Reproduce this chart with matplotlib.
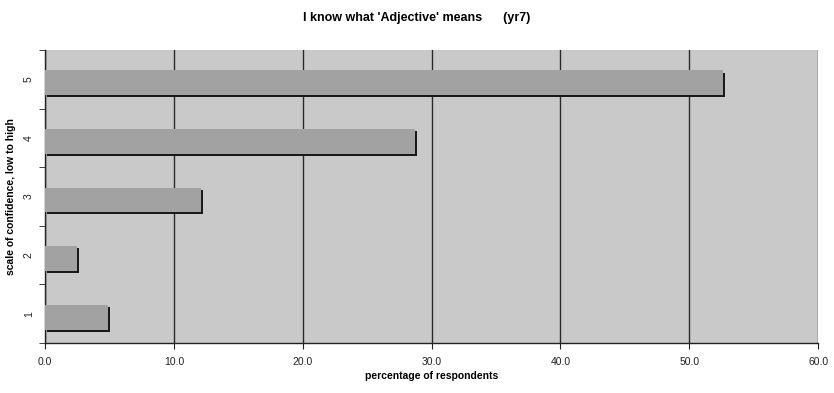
import matplotlib
matplotlib.use("Agg")
import matplotlib.pyplot as plt
import matplotlib.patheffects as pe
import numpy as np

categories = ["1", "2", "3", "4", "5"]
values = [4.9, 2.5, 12.1, 28.7, 52.6]
xticks = [0, 10, 20, 30, 40, 50, 60]
title = "I know what 'Adjective' means      (yr7)"
xlabel = "percentage of respondents"
ylabel = "scale of confidence, low to high"

plt.rcParams['font.family'] = ['Liberation Sans', 'DejaVu Sans']

fig = plt.figure(figsize=(8.34, 3.93), dpi=100)
ax = fig.add_axes([0.054, 0.127, 0.927, 0.746])
ax.set_facecolor("#c9c9c9")

y = np.arange(len(categories))
ax.set_axisbelow(True)
ax.xaxis.grid(True, color="#2a2a2a", linewidth=1.0)
bars = ax.barh(y - 0.06, values, height=0.42, color="#a2a2a2", edgecolor="none", zorder=3)
for b in bars:
    b.set_path_effects([pe.SimplePatchShadow(offset=(1.5, -1.5), shadow_rgbFace="#1a1a1a", alpha=1.0),
                        pe.Normal()])

ax.set_xlim(0, 60)
ax.set_ylim(-0.5, len(categories) - 0.5)
ax.set_xticks(xticks)
ax.set_xticklabels([f"{v:.1f}" for v in xticks], fontsize=7.5, color="#222222")
ax.set_yticks(y)
ax.set_yticklabels(categories, fontsize=7.5, rotation=90, va="center", color="#222222")
ax.set_yticks(np.arange(-0.5, len(categories), 1.0), minor=True)
ax.tick_params(axis="y", which="major", length=0, pad=8)
ax.tick_params(axis="y", which="minor", length=4, direction="out", color="#222222")
ax.tick_params(axis="x", which="major", length=4, direction="out", color="#222222", pad=6)

for s in ["top", "right"]:
    ax.spines[s].set_visible(False)
for s in ["left", "bottom"]:
    ax.spines[s].set_color("#222222")
    ax.spines[s].set_linewidth(1.0)

ax.set_xlabel(xlabel, fontsize=7.5, fontweight="bold", labelpad=3)
ax.set_ylabel(ylabel, fontsize=7.5, fontweight="bold", labelpad=6)
fig.text(0.5, 0.955, title, ha="center", va="center", fontsize=9, fontweight="bold")

fig.savefig("out.png", dpi=100, facecolor="white")
